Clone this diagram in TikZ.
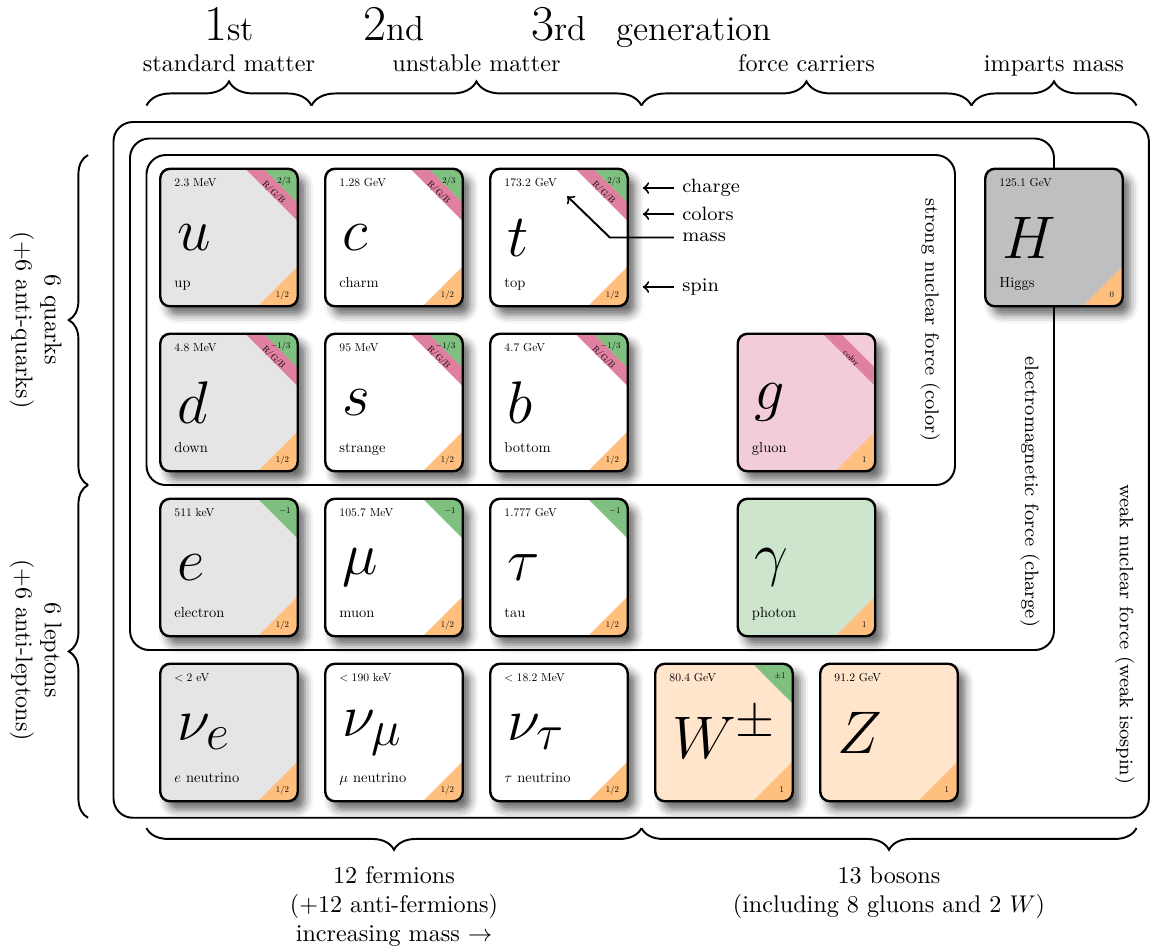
\documentclass[tikz,border=0pt]{standalone}
\usepackage{amsmath,amssymb}
\usetikzlibrary{shadows.blur,decorations.pathreplacing}
\definecolor{monvert}{RGB}{127,191,127}
\definecolor{monorange}{RGB}{255,191,127}
\definecolor{monrose}{RGB}{223,128,160}
\definecolor{mongris}{RGB}{229,229,229}
\definecolor{mongrisfonce}{RGB}{191,191,191}
\definecolor{monrosepale}{RGB}{242,204,217}
\definecolor{monvertpale}{RGB}{204,229,204}
\definecolor{monorangepale}{RGB}{255,229,204}
\tikzset{
	boite/.style={rounded corners=4pt, line width=1pt},
	ombre/.style={blur shadow={shadow xshift=3pt, shadow yshift=-3.5pt, shadow blur radius=3.5pt, shadow opacity=60}},
	force/.style={rounded corners=8pt, thick},
	accolade/.style={thick, decorate, decoration={brace, amplitude=#1}},
	accolade/.default=10pt,
	masse/.style={anchor=base west, inner sep=0pt},
	symbole/.style={anchor=west, inner sep=0pt, font=\fontsize{30}{30}\selectfont},
	nom/.style={anchor=base west, inner sep=0pt},
	petit/.style={anchor=base east, inner sep=0pt},
	couleur/.style={inner sep=0pt, rotate=-45},
	annot/.style={anchor=west, font=\footnotesize},
	fleche/.style={->, thick}
}
\newcommand{\txtmasse}[1]{\scalebox{0.48}{#1}}
\newcommand{\txtnom}[1]{\scalebox{0.6}{#1}}
\newcommand{\txtpetit}[1]{\scalebox{0.36}{#1}}
% #1 nom du noeud, #2 position, #3 fond, #4 symbole, #5 nom, #6 masse, #7 spin, #8 charge, #9 couleur
\newcommand{\particle}[9]{%
	\begin{scope}[shift={#2}]
		\path[fill=#3, boite, ombre] (-1,-1) rectangle (1,1);
		\begin{scope}
			\clip[rounded corners=4pt] (-1,-1) rectangle (1,1);
			\fill[monorange] (1,-1) -- (0.42,-1) -- (1,-0.42) -- cycle;
			\if\relax\detokenize{#9}\relax
				\if\relax\detokenize{#8}\relax\else
					\fill[monvert] (1,1) -- (0.42,1) -- (1,0.42) -- cycle;
				\fi
			\else
				\if\relax\detokenize{#8}\relax\else
					\fill[monvert] (1,1) -- (0.5,1) -- (1,0.5) -- cycle;
				\fi
				\fill[monrose] (0.5,1) -- (0.24,1) -- (1,0.24) -- (1,0.5) -- cycle;
				\node[couleur] (#1-col) at (0.65,0.65) {\txtpetit{#9}};
			\fi
		\end{scope}
		\draw[boite] (-1,-1) rectangle (1,1);
		\node[masse] (#1-m) at (-0.8,0.74) {\txtmasse{#6}};
		\node[symbole] (#1-s) at (-0.76,0) {#4};
		\node[nom] (#1-n) at (-0.8,-0.73) {\txtnom{#5}};
		\node[petit] (#1-sp) at (0.88,-0.87) {\txtpetit{#7}};
		\node[petit] (#1-ch) at (0.9,0.79) {\txtpetit{#8}};
	\end{scope}}

\begin{document}
\begin{tikzpicture}
	\useasboundingbox (-3.331,3.455) rectangle (13.411,-10.335);
	% Generations %
	\node[anchor=base] (gen1) at (0,2.87) {{\huge 1}{\Large st}};
	\node[anchor=base] (gen2) at (2.4,2.87) {{\huge 2}{\Large nd}};
	\node[anchor=base] (gen3) at (4.8,2.87) {{\huge 3}{\Large rd}};
	\node[anchor=base west] (gen) at (5.51,2.87) {\Large generation};
	% Accolades du haut %
	\draw[accolade] (-1.2,1.92) -- (1.2,1.92);
	\draw[accolade] (1.2,1.92) -- (6,1.92);
	\draw[accolade] (6,1.92) -- (10.8,1.92);
	\draw[accolade] (10.8,1.92) -- (13.2,1.92);
	\node[anchor=base] (stable) at (0,2.42) {standard matter};
	\node[anchor=base] (instable) at (3.6,2.42) {unstable matter};
	\node[anchor=base] (porteurs) at (8.4,2.42) {force carriers};
	\node[anchor=base] (masses) at (12,2.42) {imparts mass};
	% Accolades de gauche %
	\draw[accolade=8pt] (-2.05,-3.6) -- (-2.05,1.2);
	\draw[accolade=8pt] (-2.05,-8.44) -- (-2.05,-3.6);
	\node[align=center, rotate=-90] (quarks) at (-2.81,-1.2) {6 quarks\\(+6 anti-quarks)};
	\node[align=center, rotate=-90] (leptons) at (-2.81,-6) {6 leptons\\(+6 anti-leptons)};
	% Accolades du bas %
	\draw[accolade=9pt] (6,-8.59) -- (-1.2,-8.59);
	\draw[accolade=9pt] (13.2,-8.59) -- (6,-8.59);
	\node[align=center, anchor=north] (fermions) at (2.4,-9.03) {12 fermions\\(+12 anti-fermions)\\increasing mass $\to$};
	\node[align=center, anchor=north] (bosons) at (9.6,-9.03) {13 bosons\\(including 8 gluons and 2 $W$)};
	% Interactions %
	\draw[force] (-1.68,1.68) rectangle (13.38,-8.44);
	\draw[force] (-1.44,1.44) rectangle (12,-6);
	\draw[force] (-1.2,1.2) rectangle (10.56,-3.6);
	\node[rotate=-90, font=\footnotesize] (forte) at (10.2,-1.2) {strong nuclear force (color)};
	\node[rotate=-90, font=\footnotesize] (em) at (11.65,-3.7) {electromagnetic force (charge)};
	\node[rotate=-90, font=\footnotesize] (faible) at (13.03,-5.77) {weak nuclear force (weak isospin)};
	% Quarks %
	\particle{u}{(0,0)}{mongris}{$u$}{up}{2.3 MeV}{1/2}{2/3}{R/G/B}
	\particle{c}{(2.4,0)}{white}{$c$}{charm}{1.28 GeV}{1/2}{2/3}{R/G/B}
	\particle{t}{(4.8,0)}{white}{$t$}{top}{173.2 GeV}{1/2}{2/3}{R/G/B}
	\particle{d}{(0,-2.4)}{mongris}{$d$}{down}{4.8 MeV}{1/2}{$-1/3$}{R/G/B}
	\particle{s}{(2.4,-2.4)}{white}{$s$}{strange}{95 MeV}{1/2}{$-1/3$}{R/G/B}
	\particle{b}{(4.8,-2.4)}{white}{$b$}{bottom}{4.7 GeV}{1/2}{$-1/3$}{R/G/B}
	% Leptons %
	\particle{e}{(0,-4.8)}{mongris}{$e$}{electron}{511 keV}{1/2}{$-1$}{}
	\particle{mu}{(2.4,-4.8)}{white}{$\mu$}{muon}{105.7 MeV}{1/2}{$-1$}{}
	\particle{tau}{(4.8,-4.8)}{white}{$\tau$}{tau}{1.777 GeV}{1/2}{$-1$}{}
	\particle{nue}{(0,-7.2)}{mongris}{$\nu_e$}{$e$ neutrino}{$<2$ eV}{1/2}{}{}
	\particle{numu}{(2.4,-7.2)}{white}{$\nu_\mu$}{$\mu$ neutrino}{$<190$ keV}{1/2}{}{}
	\particle{nutau}{(4.8,-7.2)}{white}{$\nu_\tau$}{$\tau$ neutrino}{$<18.2$ MeV}{1/2}{}{}
	% Bosons %
	\particle{g}{(8.4,-2.4)}{monrosepale}{$g$}{gluon}{}{1}{}{color}
	\particle{gamma}{(8.4,-4.8)}{monvertpale}{$\gamma$}{photon}{}{1}{}{}
	\particle{W}{(7.2,-7.2)}{monorangepale}{$W^{\pm}$}{}{80.4 GeV}{1}{$\pm1$}{}
	\particle{Z}{(9.6,-7.2)}{monorangepale}{$Z$}{}{91.2 GeV}{1}{}{}
	\particle{H}{(12,0)}{mongrisfonce}{$H$}{Higgs}{125.1 GeV}{0}{}{}
	% Legende %
	\coordinate (pcharge) at (6.02,0.72);
	\coordinate (pcolors) at (6.02,0.34);
	\coordinate (coude) at (5.54,0);
	\coordinate (pmass) at (4.92,0.6);
	\coordinate (pspin) at (6.02,-0.72);
	\node[annot] (lcharge) at (6.47,0.72) {charge};
	\node[annot] (lcolors) at (6.47,0.34) {colors};
	\node[annot] (lmass) at (6.47,0) {mass};
	\node[annot] (lspin) at (6.47,-0.72) {spin};
	\draw[fleche] (lcharge.west) -- (pcharge);
	\draw[fleche] (lcolors.west) -- (pcolors);
	\draw[fleche] (lmass.west) -- (coude) -- (pmass);
	\draw[fleche] (lspin.west) -- (pspin);
\end{tikzpicture}
\end{document}
